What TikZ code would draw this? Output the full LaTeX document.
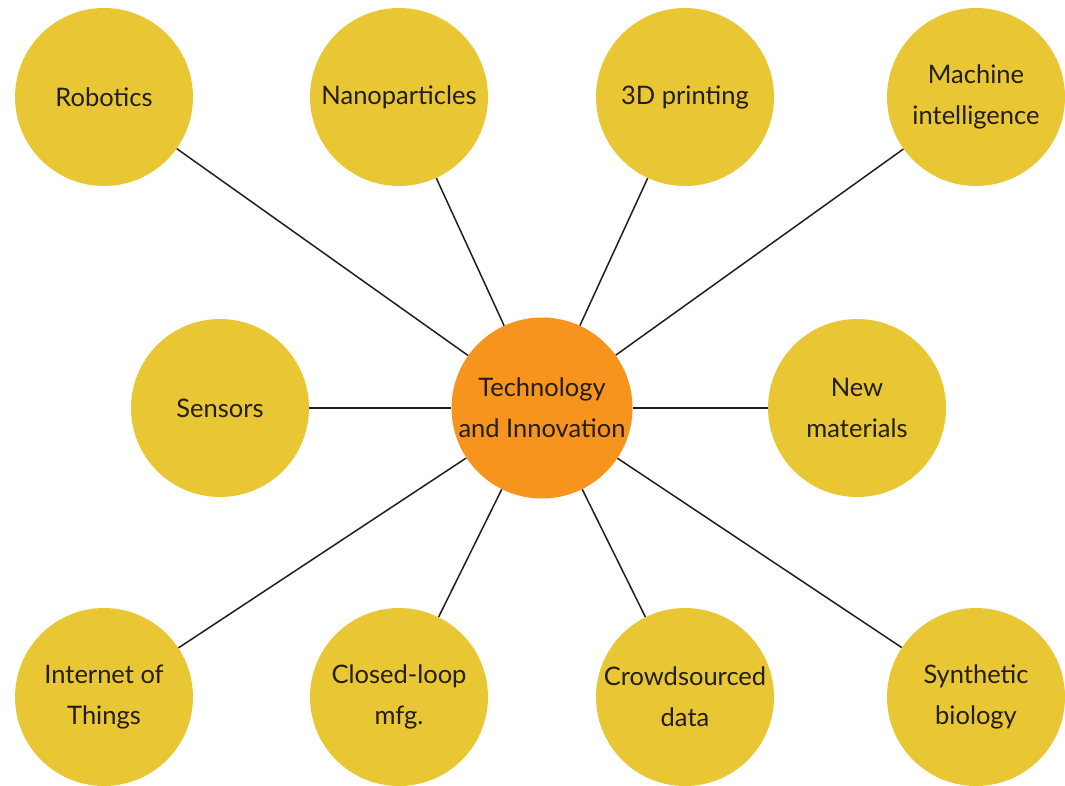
\documentclass[tikz,border=0pt]{standalone}
\usepackage{fontspec}
\setmainfont{Lato}
\usepackage{tikz}
\usepackage{xcolor}
\definecolor{mustard}{RGB}{233,198,52}
\definecolor{tangerine}{RGB}{247,148,30}
\definecolor{ink}{RGB}{34,30,26}
\tikzset{%
    topic/.style={%
        circle, fill=mustard, draw=none, minimum size=178pt, inner sep=0pt,
        align=center, text=ink, font=\fontsize{25.5}{41}\selectfont
    },
    hub/.style={topic, fill=tangerine, minimum size=181pt},
    spoke/.style={draw=ink, line width=1.5pt}
}

\begin{document}
\begin{tikzpicture}[x=1pt,y=-1pt]
\useasboundingbox (0,0) rectangle (1065,785);
\node[hub] (tech) at (542,408) {Technology\\and Innovation};
% top row
\node[topic] (rob)  at (104,97)  {Robotics};
\node[topic] (nano) at (399,97)  {Nanoparticles};
\node[topic] (print) at (685,97) {3D printing};
\node[topic] (mach) at (976,97)  {Machine\\intelligence};
% middle row
\node[topic] (sens) at (220,408) {Sensors};
\node[topic] (mat)  at (857,408) {New\\materials};
% bottom row
\node[topic] (iot)   at (104,697) {Internet of\\Things};
\node[topic] (loop)  at (399,697) {Closed-loop\\mfg.};
\node[topic] (crowd) at (685,697) {Crowdsourced\\data};
\node[topic] (bio)   at (976,697) {Synthetic\\biology};
\draw[spoke] (tech) -- (rob);
\draw[spoke] (tech) -- (nano);
\draw[spoke] (tech) -- (print);
\draw[spoke] (tech) -- (mach);
\draw[spoke] (tech) -- (sens);
\draw[spoke] (tech) -- (mat);
\draw[spoke] (tech) -- (iot);
\draw[spoke] (tech) -- (loop);
\draw[spoke] (tech) -- (crowd);
\draw[spoke] (tech) -- (bio);
\end{tikzpicture}
\end{document}
